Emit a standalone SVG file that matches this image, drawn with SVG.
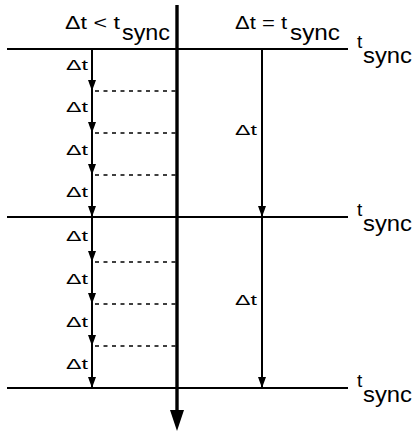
<svg xmlns="http://www.w3.org/2000/svg" width="413" height="432" viewBox="0 0 413 432">
<style>
.h{stroke:#000;stroke-width:2.2;fill:none}
.a{stroke:#000;stroke-width:2;fill:none}
.d{stroke:#000;stroke-width:1.6;stroke-dasharray:4 4.5;fill:none}
</style>
<defs>
<marker id="m" markerUnits="userSpaceOnUse" markerWidth="11" markerHeight="8" refX="11" refY="4" orient="auto" viewBox="0 0 11 8"><path d="M0,0 L11,4 L0,8 Z" fill="#000"/></marker>
</defs>
<rect width="413" height="432" fill="#fff"/>
<g id="sync-lines">
<line class="h" x1="7" y1="49" x2="348" y2="49"/>
<line class="h" x1="7" y1="217" x2="348" y2="217"/>
<line class="h" x1="7" y1="388" x2="348" y2="388"/>
</g>
<g id="connectors">
<line x1="177" y1="5" x2="177" y2="412" stroke="#000" stroke-width="3.4"/>
<path d="M170,410 L184,410 L177,431 Z" fill="#000"/>
<line class="a" x1="92" y1="49" x2="92" y2="91" marker-end="url(#m)"/>
<line class="a" x1="92" y1="91" x2="92" y2="133" marker-end="url(#m)"/>
<line class="a" x1="92" y1="133" x2="92" y2="175" marker-end="url(#m)"/>
<line class="a" x1="92" y1="175" x2="92" y2="217" marker-end="url(#m)"/>
<line class="a" x1="92" y1="217" x2="92" y2="262" marker-end="url(#m)"/>
<line class="a" x1="92" y1="262" x2="92" y2="304" marker-end="url(#m)"/>
<line class="a" x1="92" y1="304" x2="92" y2="346" marker-end="url(#m)"/>
<line class="a" x1="92" y1="346" x2="92" y2="388" marker-end="url(#m)"/>
<line class="a" x1="262" y1="49" x2="262" y2="217" marker-end="url(#m)"/>
<line class="a" x1="262" y1="217" x2="262" y2="388" marker-end="url(#m)"/>
<line class="d" x1="95" y1="91" x2="177" y2="91"/>
<line class="d" x1="95" y1="133" x2="177" y2="133"/>
<line class="d" x1="95" y1="175" x2="177" y2="175"/>
<line class="d" x1="95" y1="262" x2="177" y2="262"/>
<line class="d" x1="95" y1="304" x2="177" y2="304"/>
<line class="d" x1="95" y1="346" x2="177" y2="346"/>
</g>
<g id="labels" font-family="Liberation Sans, Arial, sans-serif" fill="#000">
<g font-size="19">
<text x="65" y="29" textLength="55" lengthAdjust="spacingAndGlyphs">Δt &lt; t</text>
<text x="235" y="29" textLength="52" lengthAdjust="spacingAndGlyphs">Δt = t</text>
<text x="357" y="48">t</text>
<text x="357" y="216">t</text>
<text x="357" y="387">t</text>
</g>
<g font-size="22">
<text x="122" y="40" textLength="48" lengthAdjust="spacingAndGlyphs">sync</text>
<text x="290" y="40" textLength="50" lengthAdjust="spacingAndGlyphs">sync</text>
<text x="363" y="63" textLength="49" lengthAdjust="spacingAndGlyphs">sync</text>
<text x="363" y="231" textLength="49" lengthAdjust="spacingAndGlyphs">sync</text>
<text x="363" y="402" textLength="49" lengthAdjust="spacingAndGlyphs">sync</text>
</g>
<g font-size="14.5">
<text x="66" y="70" textLength="22" lengthAdjust="spacingAndGlyphs">Δt</text>
<text x="66" y="112" textLength="22" lengthAdjust="spacingAndGlyphs">Δt</text>
<text x="66" y="155" textLength="22" lengthAdjust="spacingAndGlyphs">Δt</text>
<text x="66" y="197" textLength="22" lengthAdjust="spacingAndGlyphs">Δt</text>
<text x="66" y="241" textLength="22" lengthAdjust="spacingAndGlyphs">Δt</text>
<text x="66" y="284" textLength="22" lengthAdjust="spacingAndGlyphs">Δt</text>
<text x="66" y="327" textLength="22" lengthAdjust="spacingAndGlyphs">Δt</text>
<text x="66" y="369" textLength="22" lengthAdjust="spacingAndGlyphs">Δt</text>
<text x="235" y="135" textLength="22" lengthAdjust="spacingAndGlyphs">Δt</text>
<text x="235" y="305" textLength="22" lengthAdjust="spacingAndGlyphs">Δt</text>
</g>
</g>
</svg>
